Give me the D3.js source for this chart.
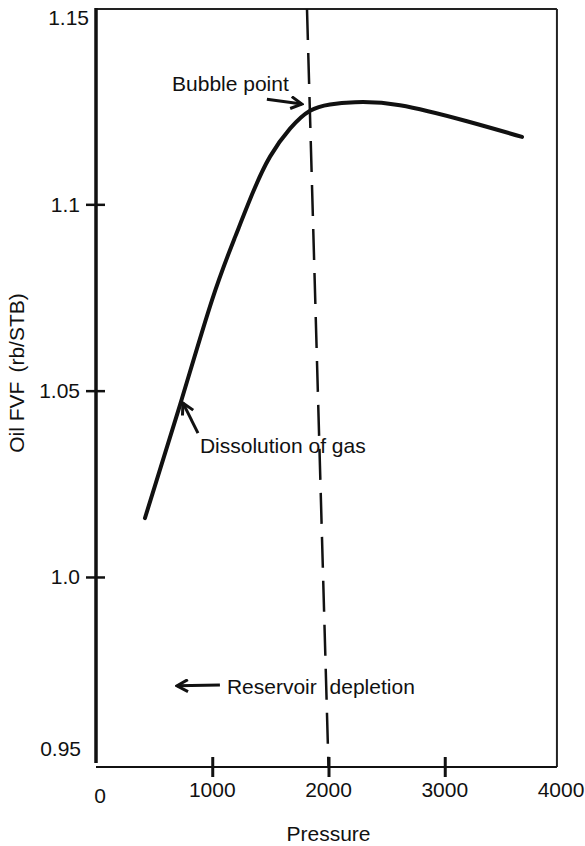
<!DOCTYPE html>
<html>
<head>
<meta charset="utf-8">
<script src="https://cdn.jsdelivr.net/npm/d3@7"></script>
<style>
    body { margin: 0; background: #fff; }
    text { font-family: "Liberation Sans", Arial, Helvetica, sans-serif; fill: #111; }
</style>
</head>
<body>
<div id="chart"></div>
<script>
// Data
var pressure = [421, 723, 998, 1196, 1351, 1497, 1669, 1841, 2013, 2228, 2615, 3191, 3665];
var fvf = [1.0158, 1.0462, 1.0743, 1.0912, 1.1033, 1.1128, 1.1203, 1.1251, 1.1268, 1.1274, 1.1266, 1.1223, 1.1181];

// bubble point line (pressure at top and bottom of frame)
var bubbleP = [1815, 2000];
var bubbleV = [1.1524, 0.949];

var xTicks = [1000, 2000, 3000];
var xTickLabels = [0, 1000, 2000, 3000, 4000];
var yTicks = [1.0, 1.05, 1.1];
var yTickLabels = ["0.95", "1.0", "1.05", "1.1", "1.15"];

var annotations = [
    { text: "Bubble point", tx: 654, ty: 1.1304, from: [1470, 1.1282], to: [1771, 1.1269], ws: 0 },
    { text: "Dissolution of gas", tx: 894, ty: 1.0333, from: [877, 1.0386], to: [748, 1.0467], ws: 0 },
    { text: "Reservoir depletion", tx: 1126, ty: 0.9686, from: [1066, 0.9710], to: [696, 0.9708], ws: 7 }
];

var svgWidth = 585;
var svgHeight = 846;

var svg = d3.select("#chart")
    .append("svg")
    .attr("width", svgWidth)
    .attr("height", svgHeight);

var x = d3.scaleLinear().domain([0, 4000]).range([96, 561]);
var y = d3.scaleLinear().domain([0.95, 1.15]).range([763.3, 18]);

var boxTop = y(1.1524), boxBottom = y(0.949), boxLeft = x(0), boxRight = x(3965);

// frame
svg.append("line")
    .attr("x1", boxLeft).attr("x2", boxRight)
    .attr("y1", boxTop).attr("y2", boxTop)
    .attr("stroke", "#222").attr("stroke-width", 2);
svg.append("line")
    .attr("x1", boxRight).attr("x2", boxRight)
    .attr("y1", boxTop).attr("y2", boxBottom)
    .attr("stroke", "#222").attr("stroke-width", 2);
svg.append("line")
    .attr("x1", boxLeft).attr("x2", boxRight)
    .attr("y1", boxBottom).attr("y2", boxBottom)
    .attr("stroke", "#111").attr("stroke-width", 2);
svg.append("line")
    .attr("x1", boxLeft).attr("x2", boxLeft)
    .attr("y1", boxTop - 1).attr("y2", boxBottom - 4)
    .attr("stroke", "#111").attr("stroke-width", 3.5);

// x axis ticks (crossing the frame)
var xAxis = d3.axisBottom(x).tickValues(xTicks).tickFormat("").tickSizeOuter(0);
var xg = svg.append("g")
    .attr("transform", `translate(0, ${boxBottom})`)
    .call(xAxis);
xg.select(".domain").remove();
xg.selectAll(".tick line")
    .attr("y1", -10).attr("y2", 10)
    .attr("stroke", "#111").attr("stroke-width", 3);

xg.selectAll(".xlab")
    .data(xTickLabels)
    .enter()
    .append("text")
    .attr("x", d => x(d) + (d === 0 ? 4 : 0))
    .attr("y", d => d === 0 ? 36 : 30)
    .attr("text-anchor", "middle")
    .attr("font-size", "21px")
    .text(d => d);

// y axis ticks
var yAxis = d3.axisLeft(y).tickValues(yTicks).tickFormat("").tickSizeOuter(0);
var yg = svg.append("g")
    .attr("transform", `translate(${boxLeft}, 0)`)
    .call(yAxis);
yg.select(".domain").remove();
yg.selectAll(".tick line")
    .attr("x1", -10).attr("x2", 9)
    .attr("stroke", "#111").attr("stroke-width", 2.5);

yg.selectAll(".ylab")
    .data(yTickLabels)
    .enter()
    .append("text")
    .attr("x", d => d === "1.15" ? -7 : (d === "0.95" ? -15 : -16))
    .attr("y", d => y(+d) + (d === "0.95" ? -15 : 0))
    .attr("dy", "0.35em")
    .attr("text-anchor", "end")
    .attr("font-size", "21px")
    .text(d => d);

// axis labels
svg.append("text")
    .attr("x", x(2000))
    .attr("y", 841)
    .attr("text-anchor", "middle")
    .attr("font-size", "21px")
    .text("Pressure");

var ylab = svg.append("text")
    .attr("transform", `translate(17, 373) rotate(-90)`)
    .attr("text-anchor", "middle")
    .attr("dy", "0.35em")
    .attr("font-size", "21px");
ylab.append("tspan").text("Oil FVF");
ylab.append("tspan").attr("dx", 9).text("(rb/STB)");

// bubble point dashed line
svg.append("line")
    .attr("x1", x(bubbleP[0])).attr("y1", y(bubbleV[0]))
    .attr("x2", x(bubbleP[1])).attr("y2", y(bubbleV[1]))
    .attr("stroke", "#111")
    .attr("stroke-width", 2.5)
    .attr("stroke-dasharray", "31,13");

// FVF curve
var points = pressure.map((p, i) => [p, fvf[i]]);
var line = d3.line()
    .x(d => x(d[0]))
    .y(d => y(d[1]))
    .curve(d3.curveNatural);

svg.append("path")
    .datum(points)
    .attr("d", line)
    .attr("fill", "none")
    .attr("stroke", "#111")
    .attr("stroke-width", 4)
    .attr("stroke-linecap", "round");

// arrows
svg.append("defs").append("marker")
    .attr("id", "head")
    .attr("markerUnits", "userSpaceOnUse")
    .attr("viewBox", "0 0 14 14")
    .attr("refX", 12).attr("refY", 7)
    .attr("markerWidth", 14).attr("markerHeight", 14)
    .attr("orient", "auto")
    .append("path")
    .attr("d", "M1,1 L12,7 L1,13")
    .attr("fill", "none")
    .attr("stroke", "#111")
    .attr("stroke-width", 3)
    .attr("stroke-linejoin", "miter");

svg.selectAll(".arrow")
    .data(annotations)
    .enter()
    .append("line")
    .attr("class", "arrow")
    .attr("x1", d => x(d.from[0])).attr("y1", d => y(d.from[1]))
    .attr("x2", d => x(d.to[0])).attr("y2", d => y(d.to[1]))
    .attr("stroke", "#111")
    .attr("stroke-width", 3)
    .attr("marker-end", "url(#head)");

svg.selectAll(".note")
    .data(annotations)
    .enter()
    .append("text")
    .attr("class", "note")
    .attr("x", d => x(d.tx))
    .attr("y", d => y(d.ty))
    .attr("font-size", "21px")
    .attr("word-spacing", d => d.ws + "px")
    .text(d => d.text);
</script>
</body>
</html>
